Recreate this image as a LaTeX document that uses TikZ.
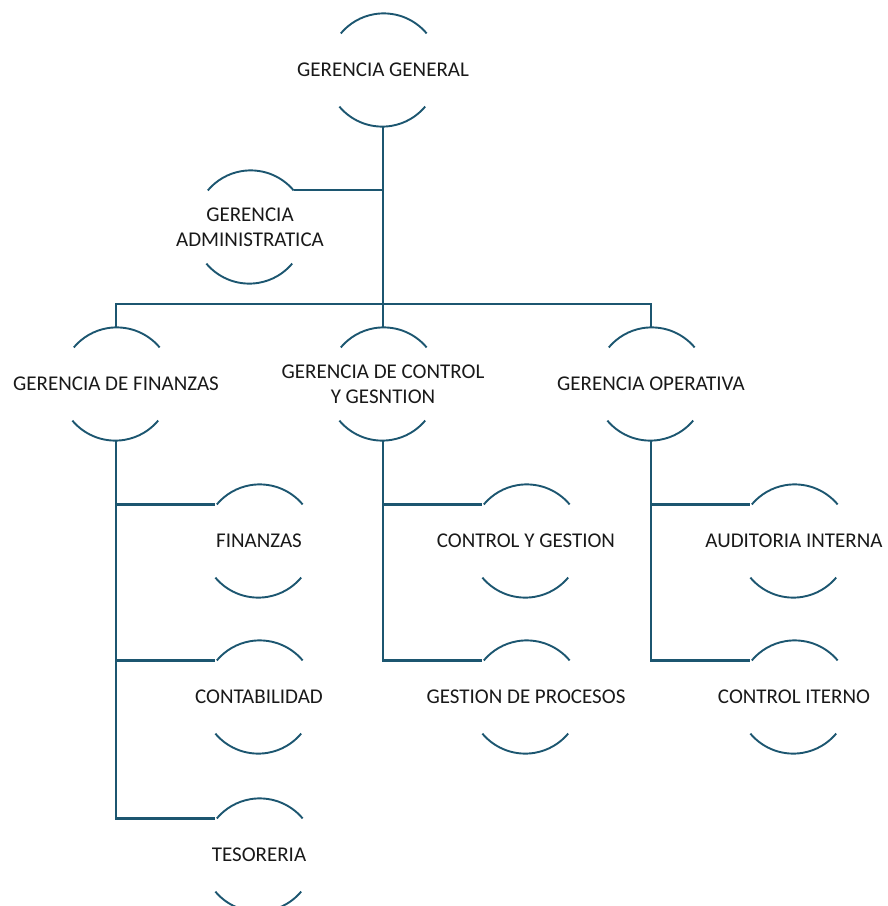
\documentclass[tikz,border=0pt]{standalone}
\usepackage{fontspec}
\setmainfont{Carlito}
\usepackage{tikz}
\usetikzlibrary{positioning}
\definecolor{teal}{RGB}{28,86,112}

\begin{document}
\begin{tikzpicture}[x=1pt, y=1pt, line width=1.9pt]
\tikzstyle{unit}=[shape=circle, minimum size=112pt, inner sep=0pt, draw=none]
\tikzstyle{every label}=[font=\fontsize{21}{25}\selectfont, align=center, text=black!90]
\useasboundingbox (0,0) rectangle (888,-906);
% top
\node[unit, label=center:{GERENCIA GENERAL}] (gg) at (383,-70) {}; %%
\node[unit, label=center:{GERENCIA\\ADMINISTRATICA}] (ga) at (250,-227) {}; %%
% second row
\node[unit, label=center:{GERENCIA DE FINANZAS}] (fin) at (116,-384) {}; %%
\node[unit, label=center:{GERENCIA DE CONTROL\\Y GESNTION}] (ctl) at (383,-384) {}; %%
\node[unit, label=center:{GERENCIA OPERATIVA}] (ope) at (651,-384) {}; %%
% third row
\node[unit, label=center:{FINANZAS}] (fz) at (259,-541) {}; %%
\node[unit, label=center:{CONTABILIDAD}] (con) at (259,-697) {}; %%
\node[unit, label=center:{TESORERIA}] (tes) at (259,-855) {}; %%
\node[unit, label=center:{CONTROL Y GESTION}] (cyg) at (526,-541) {}; %%
\node[unit, label=center:{GESTION DE PROCESOS}] (gdp) at (526,-697) {}; %%
\node[unit, label=center:{AUDITORIA INTERNA}] (aud) at (794,-541) {}; %%
\node[unit, label=center:{CONTROL ITERNO}] (cit) at (794,-697) {}; %%
% arcs
\foreach \n in {gg,ga,fin,ctl,ope,fz,con,tes,cyg,gdp,aud,cit} {
  \draw[teal] (\n.40) arc (40:140:56);
  \draw[teal] (\n.220) arc (220:320:56);
}
% connectors
\coordinate (bar) at (383,-304);
\draw[teal, line width=2.2pt] (gg.south) -- (ctl.north); %%
\draw[teal, line width=2.2pt] (ga.40) -- (ga.40 -| gg.south); %%
\draw[teal, line width=2.2pt] (fin.north) |- (bar) -| (ope.north); %%
\draw[teal, line width=2.2pt] (fin.south) |- (tes.140); %%
\draw[teal, line width=2.2pt] (fin.south |- fz.140) -- (fz.140); %%
\draw[teal, line width=2.2pt] (fin.south |- con.140) -- (con.140); %%
\draw[teal, line width=2.2pt] (ctl.south) |- (gdp.140); %%
\draw[teal, line width=2.2pt] (ctl.south |- cyg.140) -- (cyg.140); %%
\draw[teal, line width=2.2pt] (ope.south) |- (cit.140); %%
\draw[teal, line width=2.2pt] (ope.south |- aud.140) -- (aud.140); %%
\end{tikzpicture}
\end{document}
